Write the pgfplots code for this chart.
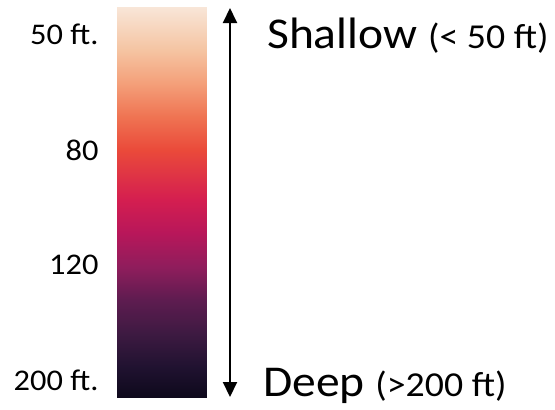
\documentclass[border=0pt]{standalone}
\usepackage{pgfplots}
\pgfplotsset{compat=1.18}
\usepackage{fontspec}
\setmainfont{Carlito}
\usetikzlibrary{arrows.meta}

\pgfplotsset{colormap={depthmap}{
  rgb255(7)=(248,230,216)
  rgb255(50)=(245,196,162)
  rgb255(83)=(244,160,122)
  rgb255(117)=(239,115,82)
  rgb255(150)=(234,74,58)
  rgb255(200)=(212,30,80)
  rgb255(233)=(184,23,90)
  rgb255(267)=(143,29,92)
  rgb255(300)=(94,28,80)
  rgb255(333)=(62,26,66)
  rgb255(367)=(32,18,48)
  rgb255(397)=(14,9,28)
}}

\pgfplotstableread{
x y
117 7
207 7
117 50
207 50
117 83
207 83
117 117
207 117
117 150
207 150
117 200
207 200
117 233
207 233
117 267
207 267
117 300
207 300
117 333
207 333
117 367
207 367
117 397
207 397
}\bardata

\begin{document}
\begin{tikzpicture}
\begin{axis}[
  width=90bp, height=390bp, scale only axis,
  xmin=117, xmax=207, ymin=7, ymax=397, y dir=reverse,
  clip=false,
  axis line style={draw=none},
  xtick=\empty,
  ytick={44,160,274,390},
  yticklabels={50 ft., 80, 120, 200 ft.},
  major tick length=0pt,
  yticklabel style={font=\fontsize{30bp}{36bp}\selectfont, anchor=base east,
    inner sep=0pt, xscale=1.08, xshift=-17bp},
  colormap name=depthmap,
  point meta min=7, point meta max=397,
]
\addplot[surf, shader=interp, mesh/cols=2, point meta=\thisrow{y}] table[x=x, y=y] {\bardata};

\draw[{Triangle[width=14bp,length=15bp]}-{Triangle[width=14bp,length=15bp]}, line width=2bp]
  (axis cs:230,8) -- (axis cs:230,397);

\node[anchor=base west, inner sep=0pt, xscale=1.08] at (axis cs:267,48)
  {\fontsize{44bp}{52bp}\selectfont Shallow \fontsize{35bp}{42bp}\selectfont(< 50 ft)};
\node[anchor=base west, inner sep=0pt, xscale=1.08] at (axis cs:263,396)
  {\fontsize{44bp}{52bp}\selectfont Deep \fontsize{35bp}{42bp}\selectfont(>200 ft)};

\path (axis cs:0,0) rectangle (axis cs:555,409);
\end{axis}
\end{tikzpicture}
\end{document}
